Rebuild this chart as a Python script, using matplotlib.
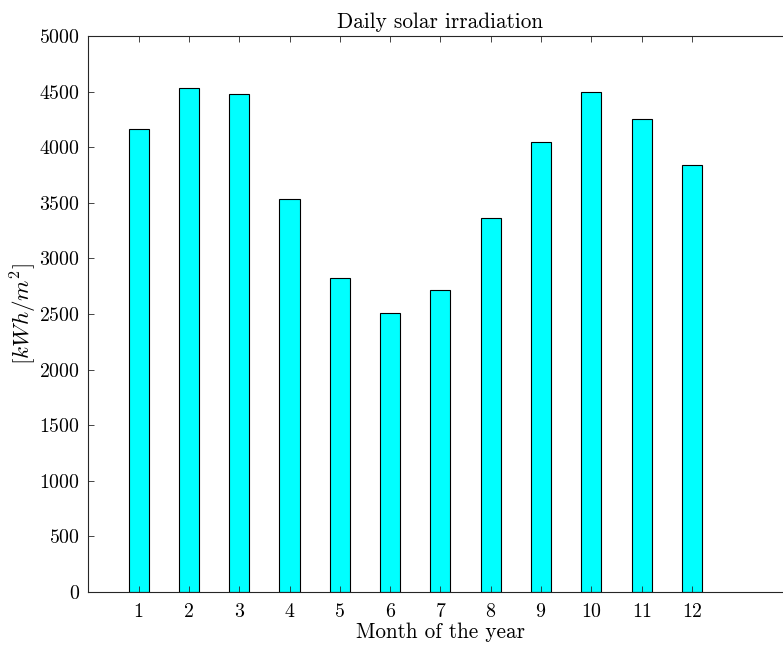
import numpy as np
import matplotlib
matplotlib.use("Agg")
import matplotlib.pyplot as plt

# monthly values
months = np.arange(1, 13)
irradiation = [4160, 4530, 4478, 3531, 2821, 2506, 2713, 3360, 4050, 4494, 4251, 3843]

plt.rcParams['font.family'] = 'serif'
plt.rcParams['font.serif'] = ['cmr10']
plt.rcParams['mathtext.fontset'] = 'cm'
plt.rcParams['axes.formatter.use_mathtext'] = True

fig = plt.figure(figsize=(7.83, 6.45), dpi=100)
ax = fig.add_axes([0.1128, 0.0822, 0.8994, 0.862])

ax.bar(months, irradiation, width=0.4, color='#00FFFF', edgecolor='black', linewidth=0.8)

ax.set_xlim(0, 14)
ax.set_ylim(0, 5000)
ax.set_xticks(months)
ax.set_yticks(np.arange(0, 5001, 500))

ax.tick_params(direction='in', length=4.5, width=0.6, top=True, right=True,
               labelsize=14.3, colors='#262626', labelcolor='black')
ax.tick_params(axis='x', pad=8)
ax.tick_params(axis='y', pad=6)
for s in ax.spines.values():
    s.set_color('#262626')
    s.set_linewidth(0.8)

ax.set_title('Daily solar irradiation', fontsize=15.3, pad=6)
ax.set_xlabel('Month of the year', fontsize=15.3, labelpad=1)
ax.set_ylabel(r'$[kWh/m^2]$', fontsize=16.6, labelpad=0)

fig.savefig('out.png', dpi=100)
